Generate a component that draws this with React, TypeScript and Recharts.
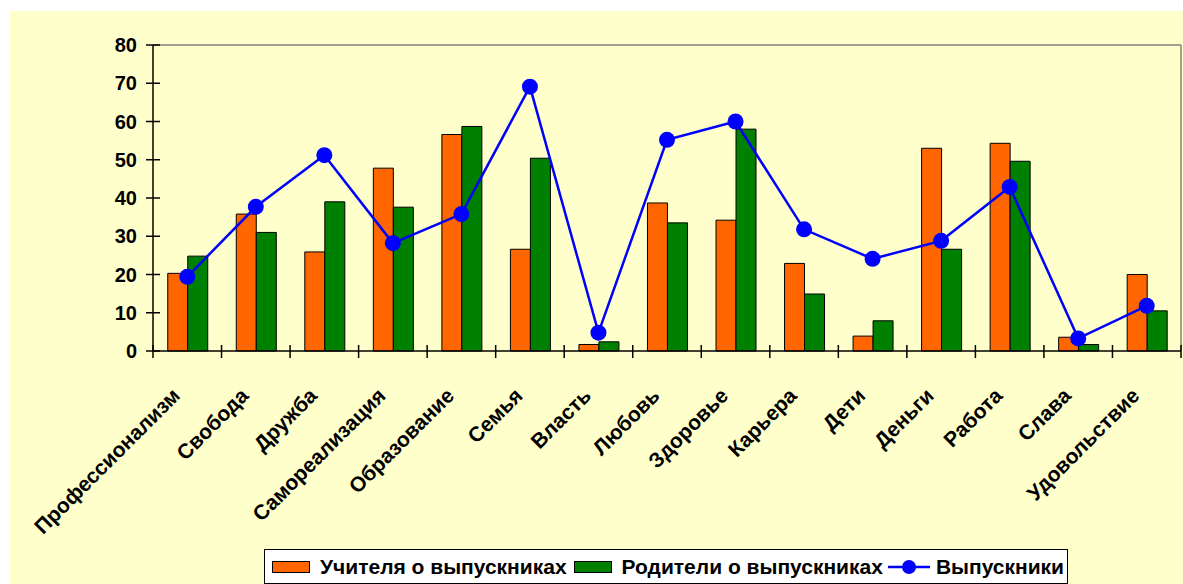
import React from 'react'
import { ComposedChart, Bar, Line, XAxis, YAxis, ReferenceLine } from 'recharts'

const categories = [
  'Профессионализм', 'Свобода', 'Дружба', 'Самореализация', 'Образование',
  'Семья', 'Власть', 'Любовь', 'Здоровье', 'Карьера',
  'Дети', 'Деньги', 'Работа', 'Слава', 'Удовольствие',
]
const teachers = [20.3, 35.8, 25.9, 47.8, 56.6, 26.6, 1.7, 38.7, 34.2, 22.9, 3.9, 53.0, 54.3, 3.6, 20.0]
const parents = [24.8, 31.0, 39.0, 37.6, 58.7, 50.4, 2.4, 33.5, 58.0, 14.9, 7.9, 26.6, 49.6, 1.7, 10.5]
const graduates = [19.4, 37.7, 51.2, 28.2, 35.8, 69.1, 4.8, 55.2, 60.0, 31.8, 24.1, 28.8, 42.9, 3.3, 11.8]
const yTicks = [0, 10, 20, 30, 40, 50, 60, 70, 80]

const seriesNames = ['Учителя о выпускниках', 'Родители о выпускниках', 'Выпускники']
const COLORS = { teachers: '#FF6600', parents: '#008000', graduates: '#0000FF' }
const FONT = '"Liberation Sans", Arial, sans-serif'

const CHART_W = 1173
const CHART_H = 573
const MARGIN = { top: 34, right: 2, bottom: 0, left: 0 }
const Y_W = 143
const X_H = 233
const BAND = (CHART_W - MARGIN.left - MARGIN.right - Y_W) / categories.length

const data = categories.map((name, i) => ({
  name,
  teachers: teachers[i],
  parents: parents[i],
  graduates: graduates[i],
}))

function YTick({ x, y, payload }: any) {
  return (
    <g>
      <line x1={x - 7} x2={x + 7} y1={y} y2={y} stroke="#000" strokeWidth={1.5} />
      <text x={x - 16} y={y} textAnchor="end" dominantBaseline="central"
        style={{ fontFamily: FONT, fontSize: 20, fontWeight: 700, fill: '#000' }}>
        {payload.value}
      </text>
    </g>
  )
}

function XTick({ x, y, payload, index }: any) {
  const last = index === categories.length - 1
  return (
    <g>
      <line x1={x - BAND / 2} x2={x - BAND / 2} y1={y - 6} y2={y + 7} stroke="#000" strokeWidth={1.5} />
      {last && <line x1={x + BAND / 2} x2={x + BAND / 2} y1={y - 6} y2={y + 7} stroke="#000" strokeWidth={1.5} />}
      <text transform={`translate(${x - 6},${y + 46}) rotate(-45)`} textAnchor="end"
        style={{ fontFamily: FONT, fontSize: 21, fontWeight: 700, fill: '#000' }}>
        {payload.value}
      </text>
    </g>
  )
}

function LegendBox() {
  const text = { fontFamily: FONT, fontSize: 21, fontWeight: 700, color: '#000', whiteSpace: 'nowrap' as const }
  const swatch = (c: string) => (
    <span style={{ display: 'inline-block', width: 36, height: 10, background: c, border: '1px solid #000', marginRight: 10 }} />
  )
  return (
    <div style={{
      position: 'absolute', left: 254, top: 538, width: 804, height: 35, boxSizing: 'border-box',
      border: '1px solid #000', background: '#fff', display: 'flex', alignItems: 'center', paddingLeft: 7,
    }}>
      {swatch(COLORS.teachers)}
      <span style={{ ...text, marginRight: 7 }}>{seriesNames[0]}</span>
      {swatch(COLORS.parents)}
      <span style={{ ...text, marginRight: 5 }}>{seriesNames[1]}</span>
      <svg width={42} height={16} style={{ marginRight: 6 }}>
        <line x1={0} x2={42} y1={8} y2={8} stroke={COLORS.graduates} strokeWidth={2.5} />
        <circle cx={21} cy={8} r={7} fill={COLORS.graduates} />
      </svg>
      <span style={text}>{seriesNames[2]}</span>
    </div>
  )
}

export default function App() {
  return (
    <div style={{ position: 'absolute', left: 10, top: 11, width: CHART_W, height: CHART_H, background: '#FFFFCC' }}>
      <ComposedChart width={CHART_W} height={CHART_H} data={data} margin={MARGIN} barCategoryGap="21.5%" barGap={0}>
        <ReferenceLine y={80} stroke="#808080" strokeWidth={1.5} ifOverflow="visible" />
        <ReferenceLine x={categories[categories.length - 1]} position="end" stroke="#808080" strokeWidth={1.5} ifOverflow="visible" />
        <XAxis dataKey="name" height={X_H} interval={0} tickLine={false} tickSize={0} tickMargin={0}
          axisLine={{ stroke: '#000', strokeWidth: 1.5 }} tick={<XTick />} />
        <YAxis width={Y_W} domain={[0, 80]} ticks={yTicks} tickLine={false} tickSize={0} tickMargin={0}
          axisLine={{ stroke: '#000', strokeWidth: 1.5 }} tick={<YTick />} />
        <Bar dataKey="teachers" name={seriesNames[0]} fill={COLORS.teachers} stroke="#000" strokeWidth={1} isAnimationActive={false} />
        <Bar dataKey="parents" name={seriesNames[1]} fill={COLORS.parents} stroke="#000" strokeWidth={1} isAnimationActive={false} />
        <Line dataKey="graduates" name={seriesNames[2]} stroke={COLORS.graduates} strokeWidth={2.5}
          dot={{ r: 8, fill: COLORS.graduates, stroke: 'none' }} activeDot={false} isAnimationActive={false} />
      </ComposedChart>
      <LegendBox />
    </div>
  )
}
